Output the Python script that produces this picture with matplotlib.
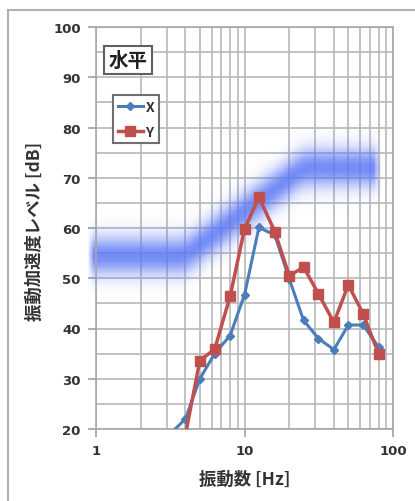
import numpy as np
import matplotlib
matplotlib.use('Agg')
import matplotlib.pyplot as plt
from matplotlib.colors import LinearSegmentedColormap
from matplotlib.lines import Line2D
from matplotlib.ticker import FixedLocator, NullFormatter

plt.rcParams['font.family'] = ['Noto Sans CJK JP', 'DejaVu Sans']

# 1/3 octave band centre frequencies [Hz]
freq = [3.15, 4, 5, 6.3, 8, 10, 12.5, 16, 20, 25, 31.5, 40, 50, 63, 80]
level_x = [19.0, 22.0, 30.0, 35.0, 38.6, 46.7, 60.1, 58.6, 49.9, 41.6, 38.0, 35.8, 40.7, 40.7, 36.3]
level_y = [None, 18.8, 33.6, 35.9, 46.4, 59.8, 66.1, 59.3, 50.5, 52.2, 46.9, 41.2, 48.7, 42.9, 34.9]

# blurred reference band (centre line)
band_freq = [0.88, 4.0, 25.0, 83.0]
band_level = [54.5, 54.5, 72.0, 72.0]

blue = '#4a7ebb'
red = '#c0504d'
grid_c = '#b8b8b8'
text_c = '#333333'

fig = plt.figure(figsize=(4.15, 5.02), dpi=100)
ax = fig.add_axes([96 / 415, 1 - 430 / 502, 297 / 415, 402 / 502])

# figure frame (top and left edge)
fig.add_artist(Line2D([8 / 415, 1.0], [1 - 11 / 502] * 2, transform=fig.transFigure,
                      color='#b0b0b0', lw=1.5))
fig.add_artist(Line2D([8 / 415] * 2, [0.0, 1 - 11 / 502], transform=fig.transFigure,
                      color='#b0b0b0', lw=1.5))

ax.set_xscale('log')
ax.set_xlim(1, 100)
ax.set_ylim(20, 100)

# band as a soft blue gradient
lf = np.linspace(np.log10(band_freq[0]), np.log10(band_freq[-1]), 400)
yy = np.linspace(40, 90, 300)
centre = np.interp(lf, np.log10(band_freq), band_level)
k = np.ones(25) / 25
centre = np.convolve(np.pad(centre, 12, mode='edge'), k, mode='valid')
LF, YY = np.meshgrid(lf, yy)
dist = (YY - centre[None, :]) / 3.8
z = np.exp(-dist ** 2)
edge = np.clip((LF - lf[0]) / 0.04, 0, 1) * np.clip((lf[-1] - LF) / 0.05, 0, 1)
z = z * edge
cmap = LinearSegmentedColormap.from_list(
    'band', [(0.36, 0.47, 0.96, 0.0), (0.36, 0.47, 0.96, 0.85)])
mesh = ax.pcolormesh(10 ** lf, yy, z, cmap=cmap, vmin=0, vmax=1,
                     shading='nearest', zorder=1, rasterized=True)
mesh.set_clip_on(False)

# grid
ax.xaxis.set_minor_locator(FixedLocator([m * 10 ** d for d in range(2) for m in range(2, 10)]))
ax.xaxis.set_minor_formatter(NullFormatter())
ax.yaxis.set_major_locator(FixedLocator(np.arange(20, 101, 10)))
ax.yaxis.set_minor_locator(FixedLocator(np.arange(25, 100, 10)))
ax.grid(True, which='both', color=grid_c, lw=1.2, zorder=0.5)
ax.set_axisbelow(True)
for s in ax.spines.values():
    s.set_color('#a8a8a8')
    s.set_linewidth(1.2)

ax.tick_params(which='major', direction='out', length=6, width=1.2, color='#a0a0a0',
               labelsize=9.5, labelcolor=text_c, pad=5)
ax.tick_params(which='minor', length=0)
ax.set_xticks([1, 10, 100])
ax.set_xticklabels(['1', '10', '100'])
for lab in ax.get_xticklabels() + ax.get_yticklabels():
    lab.set_fontweight('bold')
    lab.set_family('DejaVu Sans')

fy = [f for f, v in zip(freq, level_y) if v is not None]
vy = [v for v in level_y if v is not None]
ax.plot(freq, level_x, color=blue, lw=2.2, marker='D', ms=4, label='X', zorder=4)
ax.plot(fy, vy, color=red, lw=2.5, marker='s', ms=7, label='Y', zorder=5)

leg = ax.legend(loc='upper left', bbox_to_anchor=(0.057, 0.83), fancybox=False,
                framealpha=1, edgecolor='#707070', handlelength=1.8,
                handletextpad=0.2, labelspacing=0.75, borderpad=0.35,
                borderaxespad=0, prop={'weight': 'bold', 'size': 10})
leg.get_frame().set_linewidth(1.5)
for t in leg.get_texts():
    t.set_color(text_c)

ax.text(0.108, 0.918, '水平', transform=ax.transAxes, ha='center', va='center',
        fontsize=14, fontweight='bold', color='#202020', zorder=6,
        bbox=dict(boxstyle='square,pad=0.22', fc='white', ec='#606060', lw=1.5))

fig.text(35 / 415, 1 - 231 / 502, '振動加速度レベル [dB]', rotation=90, ha='center',
         va='center', fontsize=12.5, fontweight='bold', color=text_c)
fig.text(245 / 415, 1 - 480 / 502, '振動数 [Hz]', ha='center', va='center',
         fontsize=12.5, fontweight='bold', color=text_c)

fig.savefig('out.png', dpi=100)
